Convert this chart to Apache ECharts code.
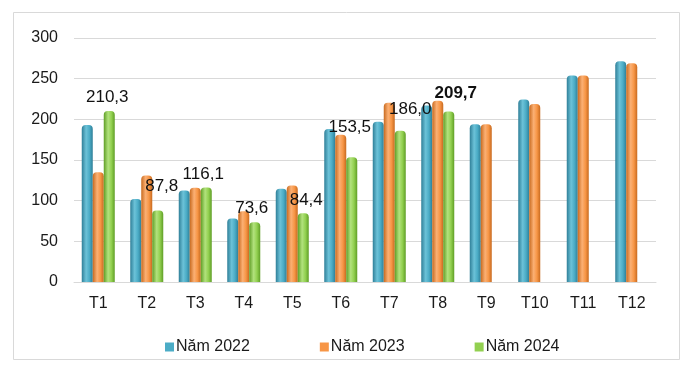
<!DOCTYPE html>
<html>
<head>
<meta charset="utf-8">
<script src="https://cdn.jsdelivr.net/npm/echarts@6/dist/echarts.min.js"></script>
<style>
html,body{margin:0;padding:0;background:#fff;}
#chart{width:700px;height:379px;}
</style>
</head>
<body>
<div id="chart"></div>
<script>
const categories = ['T1','T2','T3','T4','T5','T6','T7','T8','T9','T10','T11','T12'];
const seriesNames = ['Năm 2022','Năm 2023','Năm 2024'];
const values2022 = [193, 102, 112.5, 78, 114.5, 188, 197, 217, 194, 224.5, 254, 271.5];
const values2023 = [135, 131, 116, 87, 118.5, 181, 220.5, 223, 194, 219, 254, 269];
const values2024 = [210.3, 87.8, 116.1, 73.6, 84.4, 153.5, 186.0, 209.7, null, null, null, null];
const yTicks = [0, 50, 100, 150, 200, 250, 300];

// label placement tweaks (style only)
const labelShift = {
  0: [-2, 0], 1: [4, -11], 2: [-3, 0], 3: [-3, 0], 4: [3, 0],
  5: [-2, -16], 6: [10, -8], 7: [7, -5]
};
const boldLabels = {7: true};

const FONT = 'Liberation Sans, Arial, sans-serif';
function cyl(dark, mid, light) {
  return new echarts.graphic.LinearGradient(0, 0, 1, 0, [
    {offset: 0, color: dark},
    {offset: 0.4, color: light},
    {offset: 0.7, color: mid},
    {offset: 1, color: dark}
  ]);
}
const colors = [
  {legend: '#4BACC6', fill: cyl('#2f7f98', '#4BACC6', '#6cc2d8')},
  {legend: '#F79646', fill: cyl('#c86a1f', '#F79646', '#fbb074')},
  {legend: '#92D050', fill: cyl('#5f9e26', '#92D050', '#b2e27d')}
];

const chart = echarts.init(document.getElementById('chart'));
const allValues = [values2022, values2023, values2024];

const series = allValues.map((vals, si) => ({
  name: seriesNames[si],
  type: 'bar',
  barWidth: 11,
  barGap: '0%',
  itemStyle: {color: colors[si].fill, borderRadius: [4, 4, 0, 0]},
  label: {show: false, fontSize: 17, fontFamily: FONT, color: '#111'},
  data: vals.map((v, i) => {
    if (si !== 2 || v === null) return v;
    const sh = labelShift[i] || [0, 0];
    return {
      value: v,
      label: {
        show: true,
        position: 'top',
        distance: 5,
        offset: sh,
        fontWeight: boldLabels[i] ? 'bold' : 'normal',
        formatter: p => p.value.toFixed(1).replace('.', ',')
      }
    };
  })
}));

chart.setOption({
  animation: false,
  backgroundColor: '#fff',
  color: colors.map(c => c.legend),
  graphic: [{
    type: 'rect',
    shape: {x: 13.5, y: 12.5, width: 666, height: 347},
    style: {fill: 'none', stroke: '#d9d9d9', lineWidth: 1},
    silent: true
  }],
  grid: {left: 74, right: 44, top: 38, bottom: 97},
  legend: {
    data: seriesNames.map((n, i) => ({name: n, itemStyle: {color: colors[i].legend}})),
    left: 160,
    top: 334,
    itemWidth: 9,
    itemHeight: 9,
    itemGap: 70,
    icon: 'rect',
    textStyle: {fontSize: 16, fontFamily: FONT, color: '#1a1a1a', padding: [0, 0, 0, -3]}
  },
  xAxis: {
    type: 'category',
    data: categories,
    axisLine: {show: true, lineStyle: {color: '#d9d9d9'}},
    axisTick: {show: false},
    axisLabel: {fontSize: 16, fontFamily: FONT, color: '#1a1a1a', margin: 14}
  },
  yAxis: {
    type: 'value',
    min: yTicks[0],
    max: yTicks[yTicks.length - 1],
    interval: 50,
    axisLine: {show: false},
    axisTick: {show: false},
    splitLine: {lineStyle: {color: '#d9d9d9'}},
    axisLabel: {fontSize: 16, fontFamily: FONT, color: '#1a1a1a', margin: 16, padding: [7, 0, 0, 0]}
  },
  series: series
});
</script>
</body>
</html>
